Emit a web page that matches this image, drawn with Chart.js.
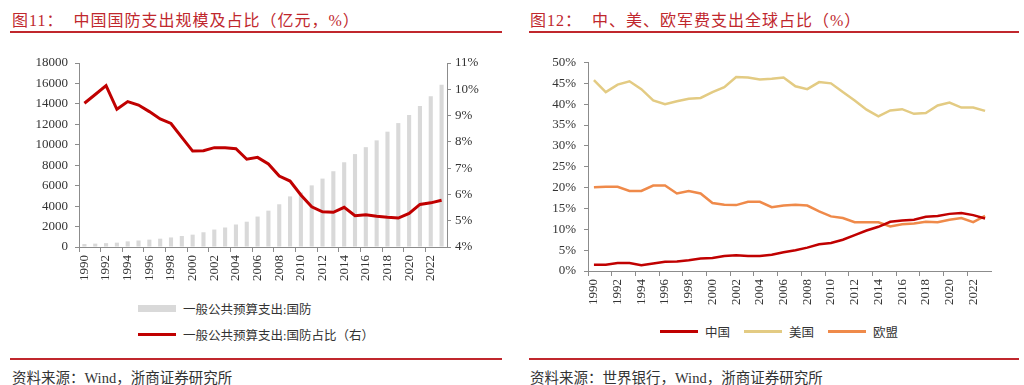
<!DOCTYPE html>
<html>
<head>
<meta charset="utf-8">
<script src="https://cdn.jsdelivr.net/npm/chart.js@4.4.1/dist/chart.umd.min.js"></script>
<style>
  body { margin: 0; width: 1024px; height: 385px; background: #fff; position: relative; overflow: hidden;
         font-family: "Liberation Serif", "Noto Sans CJK SC", serif; }
  .title { position: absolute; top: 7px; font-size: 16px; color: #c0272d; letter-spacing: 1px; white-space: nowrap; }
  .rule { position: absolute; height: 2px; background: #c0272d; }
  .src { position: absolute; top: 366px; font-size: 14.5px; color: #333; white-space: nowrap; }
  .leg { position: absolute; font-size: 12.5px; color: #333; white-space: nowrap; display: flex; align-items: center; }
  .sw { display: inline-block; width: 38px; margin-right: 7px; }
  canvas { position: absolute; }
</style>
</head>
<body>
<div class="title" style="left:12px">图11：&nbsp;&nbsp;中国国防支出规模及占比（亿元，%）</div>
<div class="rule" style="left:10px;width:492px;top:31px"></div>
<div class="title" style="left:530px">图12：&nbsp;&nbsp;中、美、欧军费支出全球占比（%）</div>
<div class="rule" style="left:529px;width:490px;top:31px"></div>

<canvas id="left" width="512" height="257" style="left:0;top:40px"></canvas>
<canvas id="right" width="512" height="276" style="left:512px;top:40px"></canvas>

<div class="leg" style="left:138px;top:300px;height:16px"><span class="sw" style="height:7px;background:#d9d9d9"></span>一般公共预算支出:国防</div>
<div class="leg" style="left:138px;top:326px;height:16px"><span class="sw" style="height:3px;background:#c00000"></span>一般公共预算支出:国防占比（右）</div>

<div class="leg" style="left:660px;top:323px;height:16px"><span class="sw" style="height:3px;background:#c00000"></span>中国</div>
<div class="leg" style="left:744px;top:323px;height:16px"><span class="sw" style="height:3px;background:#e3cb83"></span>美国</div>
<div class="leg" style="left:828px;top:323px;height:16px"><span class="sw" style="height:3px;background:#ef8a4a"></span>欧盟</div>

<div class="rule" style="left:10px;width:492px;top:358px;height:1.5px"></div>
<div class="rule" style="left:529px;width:490px;top:358px;height:1.5px"></div>
<div class="src" style="left:12px">资料来源：Wind，浙商证券研究所</div>
<div class="src" style="left:530px">资料来源：世界银行，Wind，浙商证券研究所</div>

<script>
const years = ['1990','1991','1992','1993','1994','1995','1996','1997','1998','1999',
  '2000','2001','2002','2003','2004','2005','2006','2007','2008','2009',
  '2010','2011','2012','2013','2014','2015','2016','2017','2018','2019',
  '2020','2021','2022','2023'];

// 图11: defence spending (亿元) and share of budget (%)
const defense = [290,330,378,426,551,636,720,813,935,1076,1208,1442,1708,1908,2200,2475,2980,
  3555,4179,4951,5333,6028,6692,7411,8290,9088,9766,10432,11280,12122,12918,13787,14752,15870];
const defenseShare = [9.47,9.8,10.14,9.24,9.53,9.40,9.15,8.87,8.70,8.17,7.65,7.66,7.78,7.78,7.74,
  7.34,7.41,7.16,6.70,6.51,5.98,5.53,5.34,5.32,5.51,5.19,5.23,5.17,5.13,5.10,5.28,5.62,5.68,5.78];

// 图12: share of global military spending (%)
const china = [1.5,1.5,1.9,1.9,1.4,1.8,2.2,2.3,2.6,3.0,3.1,3.6,3.8,3.6,3.6,3.9,4.5,5.0,5.6,6.4,
  6.7,7.5,8.6,9.7,10.6,11.8,12.1,12.3,13.0,13.2,13.7,13.9,13.4,12.6];
const usa = [45.8,42.9,44.7,45.5,43.6,40.9,40.0,40.7,41.3,41.5,42.9,44.1,46.5,46.4,45.9,46.1,46.4,
  44.3,43.6,45.3,45.0,42.9,40.9,38.7,37.1,38.5,38.8,37.7,37.9,39.7,40.4,39.2,39.2,38.4];
const eu = [20.1,20.2,20.2,19.2,19.2,20.5,20.5,18.6,19.2,18.6,16.3,15.9,15.8,16.6,16.6,15.3,15.7,
  15.9,15.7,14.3,13.1,12.7,11.7,11.7,11.7,10.7,11.2,11.4,11.8,11.7,12.3,12.7,11.7,13.2];

const axisColor = '#8c8c8c';
const tickFont = { family: '"Liberation Serif", serif', size: 13 };

// x axis shared by both charts: label and tick mark every 2 years
const xAxis = (fontSize, height) => ({
  type: 'category',
  offset: true,
  grid: {
    offset: true,
    drawOnChartArea: false,
    tickLength: 5,
    color: ctx => ctx.index % 2 === 0 ? axisColor : 'rgba(0,0,0,0)'
  },
  border: { display: true, color: axisColor },
  ticks: {
    autoSkip: false, minRotation: 90, maxRotation: 90, padding: 3,
    color: '#333', font: { family: tickFont.family, size: fontSize },
    callback: (v, i) => i % 2 === 0 ? years[i] : ''
  },
  afterFit: s => { s.height = height; }
});

new Chart(document.getElementById('left'), {
  type: 'bar',
  data: {
    labels: years,
    datasets: [
      { type: 'line', label: '一般公共预算支出:国防占比（右）', data: defenseShare, yAxisID: 'y1',
        borderColor: '#c00000', borderWidth: 3, pointRadius: 0, tension: 0, order: 0 },
      { label: '一般公共预算支出:国防', data: defense, yAxisID: 'y',
        backgroundColor: '#d9d9d9', categoryPercentage: 1, barPercentage: 0.38, order: 1 }
    ]
  },
  options: {
    responsive: false, animation: false,
    layout: { padding: { top: 23, left: 0, right: 0, bottom: 0 } },
    plugins: { legend: { display: false }, tooltip: { enabled: false } },
    scales: {
      x: xAxis(13, 50),
      y: {
        position: 'left', min: 0, max: 18000,
        grid: { drawOnChartArea: false, tickLength: 4, color: axisColor },
        border: { display: true, color: axisColor },
        ticks: { stepSize: 2000, padding: 7, color: '#333', font: tickFont, callback: v => String(v) },
        afterFit: s => { s.width = 79; }
      },
      y1: {
        position: 'right', min: 4, max: 11,
        grid: { drawOnChartArea: false, tickLength: 4, color: axisColor },
        border: { display: true, color: axisColor },
        ticks: { stepSize: 1, padding: 4, color: '#333', font: tickFont, callback: v => v + '%' },
        afterFit: s => { s.width = 65; }
      }
    }
  }
});

new Chart(document.getElementById('right'), {
  type: 'line',
  data: {
    labels: years,
    datasets: [
      { label: '中国', data: china, borderColor: '#c00000', borderWidth: 2.5, pointRadius: 0, tension: 0 },
      { label: '美国', data: usa, borderColor: '#e3cb83', borderWidth: 2.5, pointRadius: 0, tension: 0 },
      { label: '欧盟', data: eu, borderColor: '#ef8a4a', borderWidth: 2.5, pointRadius: 0, tension: 0 }
    ]
  },
  options: {
    responsive: false, animation: false,
    layout: { padding: { top: 22.5, left: 0, right: 33, bottom: 0 } },
    plugins: { legend: { display: false }, tooltip: { enabled: false } },
    scales: {
      x: xAxis(13, 45),
      y: {
        min: 0, max: 50,
        grid: { drawOnChartArea: false, tickLength: 4, color: axisColor },
        border: { display: true, color: axisColor },
        ticks: { stepSize: 5, padding: 8, color: '#333', font: tickFont, callback: v => v + '%' },
        afterFit: s => { s.width = 76; }
      }
    }
  }
});
</script>
</body>
</html>
